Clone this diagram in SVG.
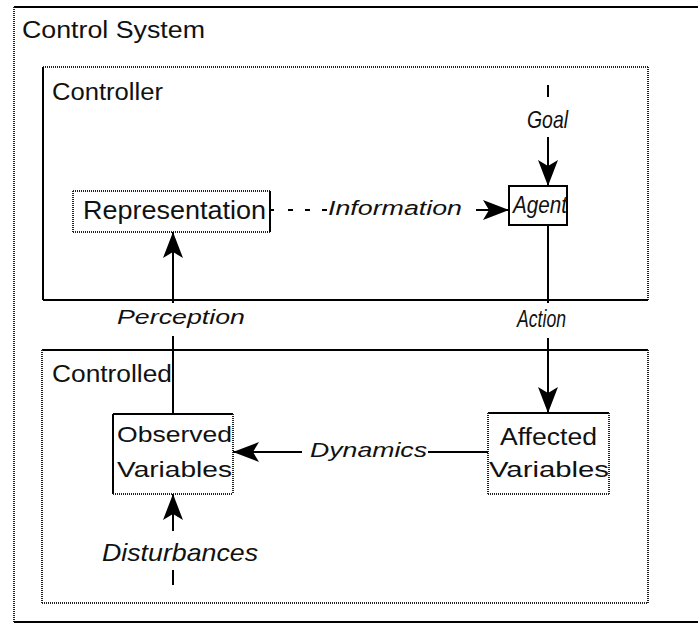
<svg xmlns="http://www.w3.org/2000/svg" width="698" height="629" viewBox="0 0 698 629">
  <style>
    .solid { stroke: #000; stroke-width: 2; fill: none; }
    .dot { stroke: #222; stroke-width: 2; stroke-dasharray: 1 1; fill: none; }
    .lbl { font-family: "Liberation Sans", Arial, sans-serif; fill: #111; }
    .it { font-family: "Liberation Sans", Arial, sans-serif; font-style: italic; fill: #111; }
    .wire { stroke: #000; stroke-width: 2; fill: none; }
    .dash { stroke: #000; stroke-width: 2; stroke-dasharray: 5 12; fill: none; }
  </style>
  <defs>
    <marker id="arrow" markerUnits="userSpaceOnUse" markerWidth="30" markerHeight="24" viewBox="-28 -12 30 24" refX="0" refY="0" orient="auto">
      <path d="M0,0 L-26,-10 L-20,0 L-26,10 Z" fill="#000"/>
    </marker>
  </defs>
  <rect x="0" y="0" width="698" height="629" fill="#fff"/>

  <!-- outer system frame -->
  <g id="control-system">
    <line class="solid" x1="14" y1="7" x2="698" y2="7"/>
    <line class="dot" x1="14" y1="7" x2="14" y2="622"/>
    <line class="solid" x1="14" y1="622" x2="698" y2="622"/>
    <text class="lbl" x="22" y="38" font-size="23" textLength="183" lengthAdjust="spacingAndGlyphs">Control System</text>
  </g>

  <g id="controller">
    <line class="dot" x1="43" y1="67" x2="648" y2="67"/>
    <line class="dot" x1="648" y1="67" x2="648" y2="300"/>
    <line class="solid" x1="43" y1="67" x2="43" y2="300"/>
    <line class="solid" x1="43" y1="300" x2="648" y2="300"/>
    <text class="lbl" x="52" y="100" font-size="23" textLength="111" lengthAdjust="spacingAndGlyphs">Controller</text>
  </g>

  <g id="controlled">
    <line class="solid" x1="42" y1="350" x2="648" y2="350"/>
    <line class="dot" x1="42" y1="350" x2="42" y2="603"/>
    <line class="dot" x1="648" y1="350" x2="648" y2="603"/>
    <line class="dot" x1="42" y1="603" x2="648" y2="603"/>
    <text class="lbl" x="52" y="382" font-size="23" textLength="120" lengthAdjust="spacingAndGlyphs">Controlled</text>
  </g>

  <g id="representation">
    <rect x="73" y="191" width="197" height="41" fill="#fff"/>
    <line class="dot" x1="73" y1="191" x2="270" y2="191"/>
    <line class="dot" x1="73" y1="191" x2="73" y2="232"/>
    <line class="dot" x1="73" y1="232" x2="270" y2="232"/>
    <line class="solid" x1="270" y1="191" x2="270" y2="232"/>
    <text class="lbl" x="83" y="219" font-size="25" textLength="183" lengthAdjust="spacingAndGlyphs">Representation</text>
  </g>

  <g id="agent">
    <rect class="solid" x="509" y="186" width="58" height="39" fill="#fff"/>
    <text class="it" x="513" y="213" font-size="23" textLength="54" lengthAdjust="spacingAndGlyphs">Agent</text>
  </g>

  <g id="observed-variables">
    <line class="solid" x1="113" y1="414" x2="233" y2="414"/>
    <line class="solid" x1="113" y1="414" x2="113" y2="494"/>
    <line class="dot" x1="233" y1="414" x2="233" y2="494"/>
    <line class="dot" x1="113" y1="494" x2="233" y2="494"/>
    <text class="lbl" x="117" y="442" font-size="22" textLength="115" lengthAdjust="spacingAndGlyphs">Observed</text>
    <text class="lbl" x="117" y="477" font-size="22" textLength="115" lengthAdjust="spacingAndGlyphs">Variables</text>
  </g>

  <g id="affected-variables">
    <line class="solid" x1="488" y1="413" x2="609" y2="413"/>
    <line class="dot" x1="488" y1="413" x2="488" y2="494"/>
    <line class="dot" x1="609" y1="413" x2="609" y2="494"/>
    <line class="dot" x1="488" y1="494" x2="609" y2="494"/>
    <text class="lbl" x="500" y="445" font-size="23" textLength="97" lengthAdjust="spacingAndGlyphs">Affected</text>
    <text class="lbl" x="489" y="477" font-size="22" textLength="120" lengthAdjust="spacingAndGlyphs">Variables</text>
  </g>

  <!-- connectors and their labels -->
  <g id="connectors">
    <!-- Goal into Agent -->
    <line class="wire" x1="548" y1="85" x2="548" y2="97"/>
    <line class="wire" x1="548" y1="137" x2="548" y2="186" marker-end="url(#arrow)"/>
    <text class="it" x="527" y="128" font-size="24" textLength="41" lengthAdjust="spacingAndGlyphs">Goal</text>

    <!-- Information: Representation to Agent -->
    <line class="dash" x1="288" y1="210" x2="328" y2="210"/>
    <line class="wire" x1="270" y1="210" x2="274" y2="210"/>
    <line class="wire" x1="476" y1="210" x2="509" y2="210" marker-end="url(#arrow)"/>
    <text class="it" x="328" y="215" font-size="20" textLength="134" lengthAdjust="spacingAndGlyphs">Information</text>

    <!-- Action: Agent to Affected Variables -->
    <line class="wire" x1="548" y1="225" x2="548" y2="303"/>
    <line class="wire" x1="548" y1="338" x2="548" y2="413" marker-end="url(#arrow)"/>
    <text class="it" x="517" y="327" font-size="23" textLength="49" lengthAdjust="spacingAndGlyphs">Action</text>

    <!-- Perception: Observed Variables to Representation -->
    <line class="wire" x1="173" y1="414" x2="173" y2="336"/>
    <line class="wire" x1="173" y1="303" x2="173" y2="232" marker-end="url(#arrow)"/>
    <text class="it" x="117" y="324" font-size="21" textLength="128" lengthAdjust="spacingAndGlyphs">Perception</text>

    <!-- Dynamics: Affected to Observed -->
    <line class="wire" x1="488" y1="452" x2="428" y2="452"/>
    <line class="wire" x1="302" y1="452" x2="233" y2="452" marker-end="url(#arrow)"/>
    <text class="it" x="310" y="457" font-size="21" textLength="117" lengthAdjust="spacingAndGlyphs">Dynamics</text>

    <!-- Disturbances into Observed -->
    <line class="wire" x1="173" y1="585" x2="173" y2="570"/>
    <line class="wire" x1="173" y1="531" x2="173" y2="494" marker-end="url(#arrow)"/>
    <text class="it" x="102" y="561" font-size="24" textLength="156" lengthAdjust="spacingAndGlyphs">Disturbances</text>
  </g>
</svg>
